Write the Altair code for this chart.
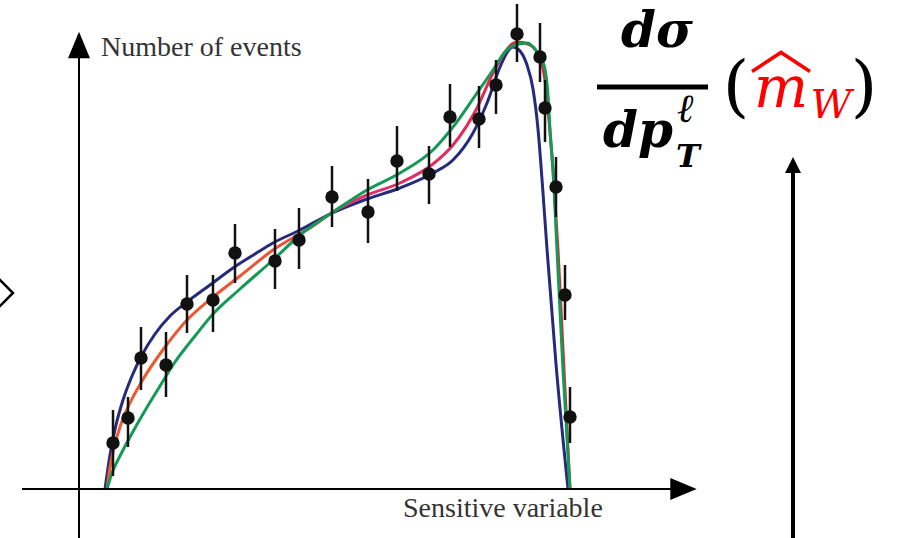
import altair as alt
import pandas as pd

# ---- measured data (x: sensitive variable, y: number of events) ----
x_var = [113, 128, 141, 166, 187, 213, 235, 275, 299, 332, 368, 397, 429, 450, 479, 496, 517, 540, 545, 556, 565, 570]
n_events = [46, 71, 131, 124, 185, 189, 236, 228, 249, 292, 277, 328, 315, 372, 370, 404, 455, 432, 381, 302, 194, 72]
err_hi = [79, 92, 162, 157, 214, 214, 265, 260, 281, 323, 310, 363, 343, 405, 403, 429, 485, 466, 409, 332, 224, 102]
err_lo = [13, 42, 99, 92, 156, 157, 206, 200, 220, 262, 246, 298, 285, 342, 341, 375, 427, 407, 347, 272, 169, 46]

# ---- template curves ----
blue_x = [105, 110, 116, 123, 132, 142, 155, 170, 187, 210, 233, 255, 273, 300, 330, 367, 400, 433, 453, 473, 487, 500, 508, 513, 520, 527, 533, 538, 542, 547, 556, 568]
blue_y = [0, 34, 64, 89, 113, 134, 155, 173, 187, 204, 221, 235, 246, 259, 275, 290, 301, 316, 329, 356, 386, 422, 438, 442, 438, 424, 400, 360, 310, 240, 125, 0]

red_x = [107, 110, 115, 120, 128, 142, 165, 187, 213, 240, 273, 313, 333, 367, 400, 433, 453, 477, 493, 505, 512, 518, 530, 540, 545, 549, 553, 558, 564, 570]
red_y = [0, 22, 45, 62, 82, 108, 142, 169, 192, 213, 239, 263, 277, 294, 306, 325, 344, 381, 416, 437, 445, 447, 444, 431, 409, 369, 319, 239, 119, 0]

green_x = [107, 112, 120, 130, 143, 160, 175, 195, 213, 240, 273, 300, 333, 367, 400, 433, 453, 477, 493, 505, 515, 527, 537, 544, 548, 550, 553, 557, 563, 570]
green_y = [0, 16, 33, 52, 75, 103, 127, 153, 175, 200, 229, 254, 277, 299, 316, 339, 362, 396, 419, 437, 444, 446, 437, 424, 394, 359, 319, 239, 119, 0]

pts = pd.DataFrame({"x": x_var, "y": n_events, "hi": err_hi, "lo": err_lo})
blue = pd.DataFrame({"x": blue_x, "y": blue_y})
red = pd.DataFrame({"x": red_x, "y": red_y})
green = pd.DataFrame({"x": green_x, "y": green_y})
one = pd.DataFrame({"a": [0]})

YS = alt.Scale(domain=[-49, 489], nice=False, zero=False)
X = alt.X("x:Q", scale=alt.Scale(domain=[0, 902], nice=False, zero=False), axis=None)
Y = alt.Y("y:Q", scale=YS, axis=None)

blue_line = alt.Chart(blue).mark_line(color="#262a7c", strokeWidth=3, interpolate="monotone").encode(x=X, y=Y)
red_line = alt.Chart(red).mark_line(
    strokeWidth=3, interpolate="monotone",
    stroke=alt.Gradient(
        gradient="linear", x1=0, x2=1, y1=0, y2=0,
        stops=[
            alt.GradientStop(offset=0, color="#ee5c2c"),
            alt.GradientStop(offset=0.38, color="#ec5236"),
            alt.GradientStop(offset=0.55, color="#e0306a"),
            alt.GradientStop(offset=0.8, color="#e22c5a"),
            alt.GradientStop(offset=0.9, color="#e6202e"),
            alt.GradientStop(offset=1, color="#e6202e"),
        ],
    ),
).encode(x=X, y=Y)
green_line = alt.Chart(green).mark_line(color="#139a57", strokeWidth=3, interpolate="monotone").encode(x=X, y=Y)

bars = alt.Chart(pts).mark_rule(color="#111", strokeWidth=2.5).encode(
    x=X, y=alt.Y("lo:Q", scale=YS, axis=None), y2="hi:Q"
)
dots = alt.Chart(pts).mark_point(filled=True, color="#111", size=180, opacity=1).encode(x=X, y=Y)

SERIF = "Liberation Serif, 'Times New Roman', 'DejaVu Serif', serif"
MATH = "'DejaVu Serif', 'Liberation Serif', serif"

def rule(x, y, x2=None, y2=None, w=2, c="black"):
    enc = dict(x=alt.value(x), y=alt.value(y))
    if x2 is not None:
        enc["x2"] = alt.value(x2)
    if y2 is not None:
        enc["y2"] = alt.value(y2)
    return alt.Chart(one).mark_rule(color=c, strokeWidth=w).encode(**enc)

def sym(x, y, shape, size, filled=True, c="black", w=2):
    if filled:
        m = alt.Chart(one).mark_point(shape=shape, size=size, filled=True, color=c, opacity=1, strokeWidth=0)
    else:
        m = alt.Chart(one).mark_point(shape=shape, size=size, filled=False, color=c, opacity=1, strokeWidth=w)
    return m.encode(x=alt.value(x), y=alt.value(y))

def txt(s, x, y, size, font=MATH, weight="normal", style="normal", c="black", align="center"):
    return alt.Chart(one).mark_text(
        text=s, font=font, fontSize=size, fontWeight=weight, fontStyle=style,
        color=c, align=align, baseline="alphabetic"
    ).encode(x=alt.value(x), y=alt.value(y))

deco = [
    # axes
    rule(79, 50, y2=538, w=2),
    sym(79, 45, "M0,-1.2L1,1.2L-1,1.2Z", 484),
    rule(22, 489, x2=686, w=2),
    sym(683.5, 489, "M1.2,0L-1.2,-1L-1.2,1Z", 484),
    # right arrow
    rule(793, 170, y2=538, w=4),
    sym(793, 165, "M0,-1L1,1L-1,1Z", 256),
    # chevron at left edge
    sym(13, 293, "M-1,-1L0,0L-1,1", 784, filled=False, w=2.5),
    # axis labels
    txt("Number of events", 101, 56, 28, font=SERIF, c="#333", align="left"),
    txt("Sensitive variable", 403, 517, 28, font=SERIF, c="#333", align="left"),
    # formula
    txt("dσ", 657, 47, 50, weight="bold", style="italic"),
    rule(597, 87, x2=708, w=5),
    txt("dp", 638, 147, 50, weight="bold", style="italic"),
    txt("T", 688, 167, 32, weight="bold", style="italic"),
    txt("ℓ", 686, 122, 40, weight="bold", style="italic"),
    txt("(", 736, 109, 68),
    txt("m", 781, 107, 57, style="italic", c="#ff0000"),
    sym(781, 62, "M-1,0.33L0,-0.33L1,0.33", 3364, filled=False, c="#ff0000", w=3.5),
    txt("W", 831, 118, 40, style="italic", c="#ff0000"),
    txt(")", 864, 109, 68),
]

chart = alt.layer(
    blue_line, red_line, green_line, bars, dots, *deco
).properties(
    width=902, height=538, autosize=alt.AutoSizeParams(type="none"), padding=0, background="white"
).configure_view(stroke=None)

chart.save("out.html", embed_options={"renderer": "svg", "actions": False})
